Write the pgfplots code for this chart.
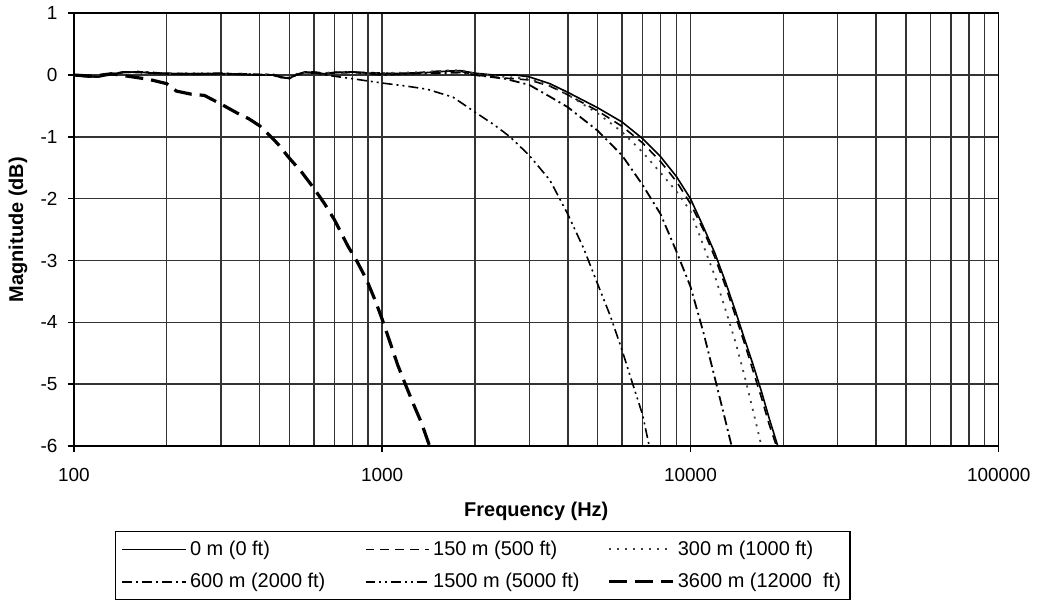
\documentclass[border=0pt]{standalone}
\usepackage{pgfplots}
\usepackage{pgfplotstable}
\pgfplotsset{compat=1.18}
\usepackage{fontspec}
\setmainfont{Liberation Sans}

% frequency (Hz) vs magnitude (dB), one table per cable length
\pgfplotstableread{
f     db
100   0
110   -0.03
120   -0.03
130   0.00
145   0.04
160   0.05
180   0.03
200   0.02
250   0.02
300   0.02
350   0.01
400   0.00
440   0.00
470   -0.04
500   -0.05
530   0.01
560   0.05
600   0.04
650   0.02
700   0.04
800   0.05
900   0.03
1000  0.02
1200  0.03
1400  0.04
1600  0.06
1800  0.07
2000  0.03
2300  0.00
2700  0.00
3000  -0.03
3500  -0.14
4000  -0.28
5000  -0.53
6000  -0.76
7000  -1.03
8000  -1.32
9000  -1.64
10000 -2.00
11000 -2.45
12000 -2.88
13000 -3.35
14000 -3.82
15000 -4.28
16000 -4.70
17000 -5.12
18000 -5.55
19200 -6.00
}\zero

\pgfplotstableread{
f     db
100   0
110   -0.02
120   -0.03
130   0.01
145   0.05
160   0.04
180   0.03
200   0.03
250   0.01
300   0.02
350   0.02
400   0.01
440   0.00
470   -0.03
500   -0.06
530   0.00
560   0.04
600   0.05
650   0.03
700   0.03
800   0.04
900   0.04
1000  0.03
1200  0.02
1400  0.05
1600  0.07
1800  0.06
2000  0.00
2500  -0.05
3000  -0.08
3500  -0.18
4000  -0.32
5000  -0.58
6000  -0.83
7000  -1.10
8000  -1.40
9000  -1.72
10000 -2.08
11000 -2.50
12000 -2.95
13000 -3.42
14000 -3.90
15000 -4.35
16000 -4.80
17000 -5.22
18000 -5.65
19000 -6.00
}\onefifty

\pgfplotstableread{
f     db
100   0
110   -0.03
120   -0.02
130   0.01
145   0.04
160   0.06
180   0.04
200   0.02
250   0.03
300   0.01
350   0.02
400   0.01
440   0.01
470   -0.02
500   -0.04
530   0.02
560   0.04
600   0.03
650   0.03
700   0.05
800   0.04
900   0.03
1000  0.03
1200  0.04
1400  0.05
1600  0.07
1800  0.08
2000  0.02
2500  -0.03
3000  -0.06
3500  -0.17
4000  -0.32
5000  -0.62
6000  -0.92
7000  -1.25
8000  -1.58
9000  -1.88
10000 -2.20
11000 -2.75
12000 -3.25
13000 -3.80
14000 -4.32
15000 -4.88
16000 -5.45
17000 -6.00
}\threehundred

\pgfplotstableread{
f     db
100   0
110   -0.02
120   -0.03
130   0.00
145   0.05
160   0.05
180   0.04
200   0.02
250   0.02
300   0.03
350   0.01
400   0.00
440   0.01
470   -0.03
500   -0.05
530   0.01
560   0.04
600   0.04
650   0.02
700   0.04
800   0.05
900   0.02
1000  0.00
1200  0.02
1500  0.03
1800  0.04
2000  0.00
2500  -0.06
3000  -0.16
3500  -0.35
4000  -0.52
5000  -0.90
6000  -1.30
7000  -1.78
8000  -2.25
9000  -2.85
10000 -3.42
11000 -4.15
12000 -4.90
13000 -5.60
13600 -6.00
}\sixhundred

\pgfplotstableread{
f     db
100   0
110   -0.03
120   -0.02
130   0.01
145   0.04
160   0.05
180   0.03
200   0.02
250   0.02
300   0.02
350   0.01
400   0.00
440   0.00
470   -0.04
500   -0.05
530   0.00
560   0.04
600   0.03
700   -0.02
800   -0.06
1000  -0.13
1200  -0.18
1400  -0.23
1700  -0.36
2000  -0.60
2300  -0.80
2600  -1.00
3000  -1.30
3500  -1.70
4000  -2.25
4500  -2.80
5000  -3.38
5500  -3.90
6000  -4.45
6500  -5.00
7000  -5.50
7350  -6.00
}\fifteenhundred

\pgfplotstableread{
f     db
100   0
115   -0.02
132   0.02
150   -0.02
175   -0.07
200   -0.14
215   -0.26
240   -0.31
265   -0.33
300   -0.47
340   -0.62
370   -0.71
400   -0.82
430   -0.97
460   -1.12
495   -1.32
550   -1.58
600   -1.83
650   -2.08
700   -2.34
775   -2.77
830   -3.02
890   -3.31
950   -3.65
1000  -3.95
1060  -4.32
1125  -4.70
1200  -5.05
1270  -5.35
1340  -5.62
1425  -6.00
}\thirtysixhundred

\begin{document}
\begin{tikzpicture}
\begin{axis}[
  scale only axis,
  width=463.4pt, height=216.9pt,
  xmode=log, log basis x=10,
  xmin=100, xmax=100000, ymin=-6, ymax=1,
  xtick={100,1000,10000,100000},
  xticklabels={100,1000,10000,100000},
  minor xtick={200,300,400,500,600,700,800,900,
    2000,3000,4000,5000,6000,7000,8000,9000,
    20000,30000,40000,50000,60000,70000,80000,90000},
  ytick={-6,-5,-4,-3,-2,-1,0,1},
  xmajorgrids, xminorgrids, ymajorgrids,
  major grid style={black!80, line width=0.75pt},
  minor grid style={black!80, line width=0.75pt},
  axis line style={line width=0.75pt},
  tick align=outside, xtick pos=left, ytick pos=left,
  major tick length=3.2pt, minor tick length=0pt,
  tick style={black, line width=0.75pt},
  /pgf/number format/assume math mode=true,
  ticklabel style={font=\fontsize{9.5}{11}\selectfont},
  xticklabel style={yshift=-4.5pt},
  yticklabel style={xshift=-1.5pt},
  xlabel={Frequency (Hz)},
  ylabel={Magnitude (dB)},
  label style={font=\fontsize{10}{12}\selectfont\bfseries},
  xlabel style={at={(axis description cs:0.5,-0.152)}, anchor=center},
  ylabel style={at={(axis description cs:-0.0604,0.5)}, anchor=center},
  legend columns=3,
  legend cell align=left,
  legend style={at={(axis description cs:0.442,-0.196)}, anchor=north,
    draw=black, line width=0.75pt, font=\fontsize{10}{12}\selectfont,
    inner xsep=3pt, inner ysep=2.5pt, row sep=3.5pt,
    nodes={inner xsep=1.5pt}},
  legend image code/.code={\draw[#1] (0pt,0pt) -- (32pt,0pt);},
]
\addplot[black, line width=0.8pt] table[x=f, y=db] {\zero};
\addlegendentry{\makebox[86pt][l]{0 m (0 ft)}}
\addplot[black, line width=0.8pt, dash pattern=on 4.5pt off 3pt] table[x=f, y=db] {\onefifty};
\addlegendentry{\makebox[86pt][l]{150 m (500 ft)}}
\addplot[black!75, line width=0.9pt, dash pattern=on 1pt off 3pt] table[x=f, y=db] {\threehundred};
\addlegendentry{300 m (1000 ft)}
\addplot[black, line width=0.9pt, dash pattern=on 5pt off 2pt on 1pt off 2pt] table[x=f, y=db] {\sixhundred};
\addlegendentry{\makebox[86pt][l]{600 m (2000 ft)}}
\addplot[black, line width=0.8pt, dash pattern=on 5pt off 2pt on 1pt off 2pt on 1pt off 2pt] table[x=f, y=db] {\fifteenhundred};
\addlegendentry{\makebox[86pt][l]{1500 m (5000 ft)}}
\addplot[black, line width=1.6pt, dash pattern=on 9pt off 4pt] table[x=f, y=db] {\thirtysixhundred};
\addlegendentry{3600 m (12000\ \ ft)}
\coordinate (bbsw) at (axis description cs:-0.0799,-0.3666);
\coordinate (bbne) at (axis description cs:1.0392,1.0284);
\end{axis}
\path (bbsw) rectangle (bbne);
\end{tikzpicture}
\end{document}
